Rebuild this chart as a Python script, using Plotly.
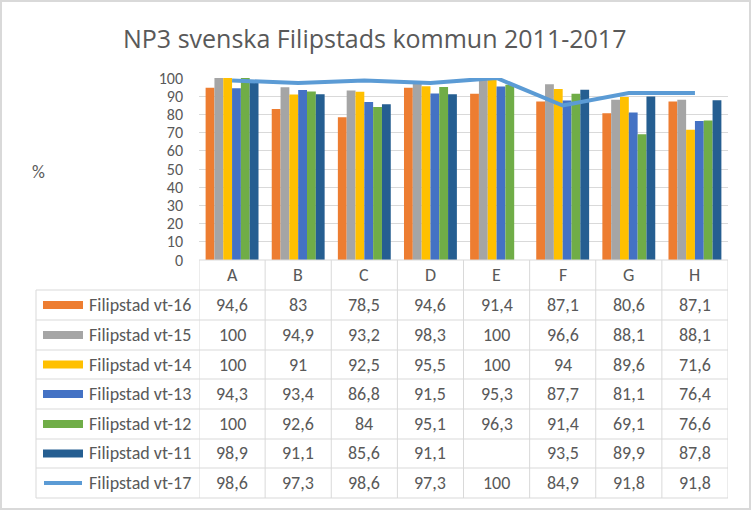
import plotly.graph_objects as go

categories = ["A", "B", "C", "D", "E", "F", "G", "H"]
vt16 = [94.6, 83, 78.5, 94.6, 91.4, 87.1, 80.6, 87.1]
vt15 = [100, 94.9, 93.2, 98.3, 100, 96.6, 88.1, 88.1]
vt14 = [100, 91, 92.5, 95.5, 100, 94, 89.6, 71.6]
vt13 = [94.3, 93.4, 86.8, 91.5, 95.3, 87.7, 81.1, 76.4]
vt12 = [100, 92.6, 84, 95.1, 96.3, 91.4, 69.1, 76.6]
vt11 = [98.9, 91.1, 85.6, 91.1, None, 93.5, 89.9, 87.8]
vt17 = [98.6, 97.3, 98.6, 97.3, 100, 84.9, 91.8, 91.8]

bar_series = [
    ("Filipstad vt-16", vt16, "#ED7D31"),
    ("Filipstad vt-15", vt15, "#A5A5A5"),
    ("Filipstad vt-14", vt14, "#FFC000"),
    ("Filipstad vt-13", vt13, "#4472C4"),
    ("Filipstad vt-12", vt12, "#70AD47"),
    ("Filipstad vt-11", vt11, "#255E91"),
]
line_series = ("Filipstad vt-17", vt17, "#5B9BD5")

W, H = 752, 511
PL, PR, PT, PB = 199, 728, 78, 260
FONT = "Carlito, Lato, sans-serif"
TFONT = "Open Sans, sans-serif"
TXT = "#595959"
GRID = "#D9D9D9"
FS = 18

def py(ypix):
    return (PB - ypix) / (PB - PT)

def px(xpix):
    return (xpix - PL) / (PR - PL)

def fmt(v):
    if v is None:
        return ""
    if float(v).is_integer():
        return str(int(v))
    return str(v).replace(".", ",")

fig = go.Figure()
for name, vals, col in bar_series:
    fig.add_trace(go.Bar(x=categories, y=vals, name=name, marker_color=col,
                         marker_line_width=0))
fig.add_trace(go.Scatter(x=categories, y=line_series[1], name=line_series[0],
                         mode="lines", line=dict(color=line_series[2], width=4)))

shapes = []
annotations = []

header_top, header_bot = 260, 290
row_edges = [290, 320, 350, 379, 409, 439, 468, 498]
table_left = 36

shapes.append(dict(type="line", xref="paper", yref="paper", x0=0, x1=1,
                   y0=py(header_top), y1=py(header_top), line=dict(color=GRID, width=1)))
for ye in row_edges:
    shapes.append(dict(type="line", xref="paper", yref="paper", x0=px(table_left), x1=1,
                       y0=py(ye), y1=py(ye), line=dict(color=GRID, width=1)))
shapes.append(dict(type="line", xref="paper", yref="paper", x0=px(table_left), x1=px(table_left),
                   y0=py(row_edges[0]), y1=py(row_edges[-1]), line=dict(color=GRID, width=1)))
for i in range(len(categories) + 1):
    shapes.append(dict(type="line", xref="x", yref="paper", x0=i - 0.5, x1=i - 0.5,
                       y0=py(header_top), y1=py(row_edges[-1]), line=dict(color=GRID, width=1)))

for c in categories:
    annotations.append(dict(x=c, xref="x", y=py((header_top + header_bot) / 2), yref="paper",
                            text=c, showarrow=False, font=dict(family=FONT, size=FS, color=TXT),
                            xanchor="center", yanchor="middle"))

all_series = bar_series + [line_series]
for r, (name, vals, col) in enumerate(all_series):
    yc = (row_edges[r] + row_edges[r + 1]) / 2
    if r < len(bar_series):
        shapes.append(dict(type="rect", xref="paper", yref="paper", x0=px(43), x1=px(83),
                           y0=py(yc - 4), y1=py(yc + 4), fillcolor=col, line=dict(width=0)))
    else:
        shapes.append(dict(type="line", xref="paper", yref="paper", x0=px(44), x1=px(82),
                           y0=py(yc), y1=py(yc), line=dict(color=col, width=4)))
    annotations.append(dict(x=px(87), xref="paper", y=py(yc), yref="paper", text=name,
                            showarrow=False, font=dict(family=FONT, size=FS, color=TXT),
                            xanchor="left", yanchor="middle"))
    for c, v in zip(categories, vals):
        annotations.append(dict(x=c, xref="x", y=py(yc), yref="paper", text=fmt(v),
                                showarrow=False, font=dict(family=FONT, size=FS, color=TXT),
                                xanchor="center", yanchor="middle"))

annotations.append(dict(x=px(38), xref="paper", y=py(172), yref="paper", text="%",
                        showarrow=False, font=dict(family=FONT, size=FS, color=TXT),
                        xanchor="center", yanchor="middle"))
annotations.append(dict(x=px(374), xref="paper", y=py(38), yref="paper",
                        text="NP3 svenska Filipstads kommun 2011-2017", showarrow=False,
                        font=dict(family=TFONT, size=25, color=TXT),
                        xanchor="center", yanchor="middle"))
shapes.append(dict(type="rect", xref="paper", yref="paper", x0=px(1), x1=px(750),
                   y0=py(1), y1=py(509), line=dict(color="#D9D9D9", width=2),
                   fillcolor="rgba(0,0,0,0)", layer="below"))

fig.update_layout(
    width=W, height=H,
    margin=dict(l=PL, r=W - PR, t=PT, b=H - PB, pad=0),
    paper_bgcolor="white", plot_bgcolor="white",
    barmode="group", bargap=0.2, bargroupgap=0,
    showlegend=False,
    font=dict(family=FONT, color=TXT),
    xaxis=dict(showticklabels=False, showgrid=False, zeroline=False, ticks="",
               range=[-0.5, len(categories) - 0.5]),
    yaxis=dict(range=[0, 100], dtick=10, showgrid=True, gridcolor=GRID, gridwidth=1,
               zeroline=False, ticks="", tickfont=dict(family=FONT, size=16, color=TXT),
               ticklabelstandoff=15),
    shapes=shapes, annotations=annotations,
)

fig.write_html("out.html")
